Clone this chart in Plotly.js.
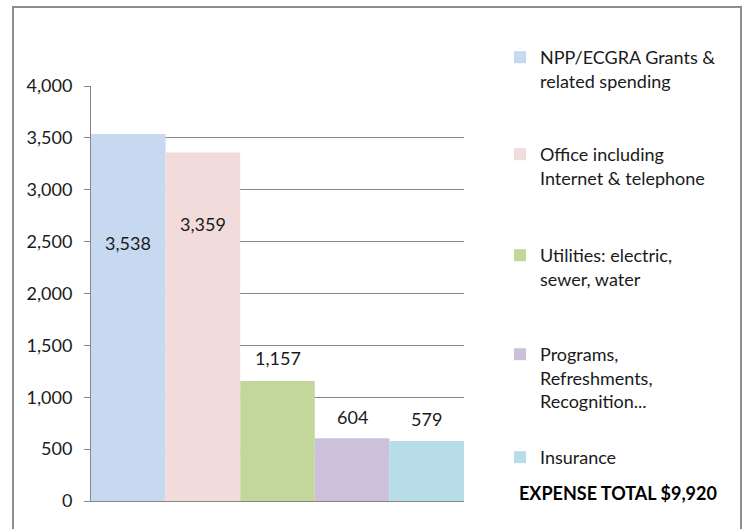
<!DOCTYPE html>
<html>
<head>
<meta charset="utf-8">
<script src="https://cdn.plot.ly/plotly-3.0.1.min.js"></script>
<style>
  html, body { margin: 0; padding: 0; background: #fff; }
  #wrap { position: relative; width: 747px; height: 529px; overflow: hidden; }
  #chart { position: absolute; left: 0; top: 0; width: 747px; height: 529px; }
  #frame { position: absolute; left: 12px; top: 6px; width: 730px; height: 560px;
           border: 2px solid #8d8d8d; pointer-events: none; box-sizing: border-box; }
</style>
</head>
<body>
<div id="wrap">
  <div id="chart"></div>
  <div id="frame"></div>
</div>
<script>
// ---- data ----
const categories = [
  "NPP/ECGRA Grants &<br>related spending",
  "Office including<br>Internet & telephone",
  "Utilities: electric,<br>sewer, water",
  "Programs,<br>Refreshments,<br>Recognition...",
  "Insurance"
];
const values = [3538, 3359, 1157, 604, 579];
const valueLabels = ["3,538", "3,359", "1,157", "604", "579"];
const yTicks = [0, 500, 1000, 1500, 2000, 2500, 3000, 3500, 4000];
const yTickLabels = ["0", "500", "1,000", "1,500", "2,000", "2,500", "3,000", "3,500", "4,000"];
const totalText = "EXPENSE TOTAL $9,920";

// ---- styles / layout positions ----
const colors = ["#C6D9F1", "#F2DCDB", "#C4D79B", "#CCC1DA", "#B7DEE8"];
const labelYPos = [2487, 2670, 1378, 810, 790];      // data-space y of value labels
const legendTopsPx = [39, 136, 237, 336, 439];        // pixel tops of legend items
const FONT = "Lato, 'Open Sans', sans-serif";
const H = 529, W = 747;

const traces = categories.map((name, i) => ({
  type: "bar",
  x: [i],
  y: [values[i]],
  width: 1,
  name: name,
  marker: { color: colors[i], line: { width: 0 } },
  legend: i === 0 ? "legend" : "legend" + (i + 1),
  hoverinfo: "skip"
}));

const layout = {
  width: W, height: H,
  margin: { l: 91, r: 283, t: 86, b: 28 },
  paper_bgcolor: "#ffffff",
  plot_bgcolor: "#ffffff",
  barmode: "overlay",
  font: { family: FONT, size: 18, color: "#1a1a1a" },
  xaxis: {
    range: [-0.5, 4.5], showticklabels: false, showgrid: false, zeroline: false,
    showline: true, linecolor: "#868686", linewidth: 1, ticks: "", fixedrange: true
  },
  yaxis: {
    range: [0, 4000], tickvals: yTicks, ticktext: yTickLabels,
    showgrid: true, gridcolor: "#868686", gridwidth: 1, zeroline: false,
    showline: true, linecolor: "#868686", linewidth: 1,
    ticks: "outside", ticklen: 6, tickcolor: "#868686", ticklabelstandoff: 8,
    tickfont: { family: FONT, size: 18, color: "#1a1a1a" }, fixedrange: true
  },
  annotations: valueLabels.map((t, i) => ({
    x: i, y: labelYPos[i], xref: "x", yref: "y", text: t, showarrow: false,
    xanchor: "center", yanchor: "middle",
    font: { family: FONT, size: 18, color: "#1a1a1a" }
  })).concat([{
    xref: "paper", yref: "paper",
    x: (517 - 91) / 373, y: (501 - 493) / 415,
    xanchor: "left", yanchor: "middle", showarrow: false,
    text: "<b>" + totalText + "</b>",
    font: { family: FONT, size: 18, color: "#000000" }
  }]),
  showlegend: true
};

legendTopsPx.forEach((top, i) => {
  const key = i === 0 ? "legend" : "legend" + (i + 1);
  layout[key] = {
    xref: "container", yref: "container",
    x: 500 / W, y: 1 - top / H, xanchor: "left", yanchor: "top",
    bgcolor: "rgba(0,0,0,0)", borderwidth: 0, valign: "top",
    font: { family: FONT, size: 18, color: "#1a1a1a" },
    itemwidth: 30, itemclick: false, itemdoubleclick: false
  };
});

Plotly.newPlot("chart", traces, layout, { displayModeBar: false, staticPlot: true });
</script>
</body>
</html>
